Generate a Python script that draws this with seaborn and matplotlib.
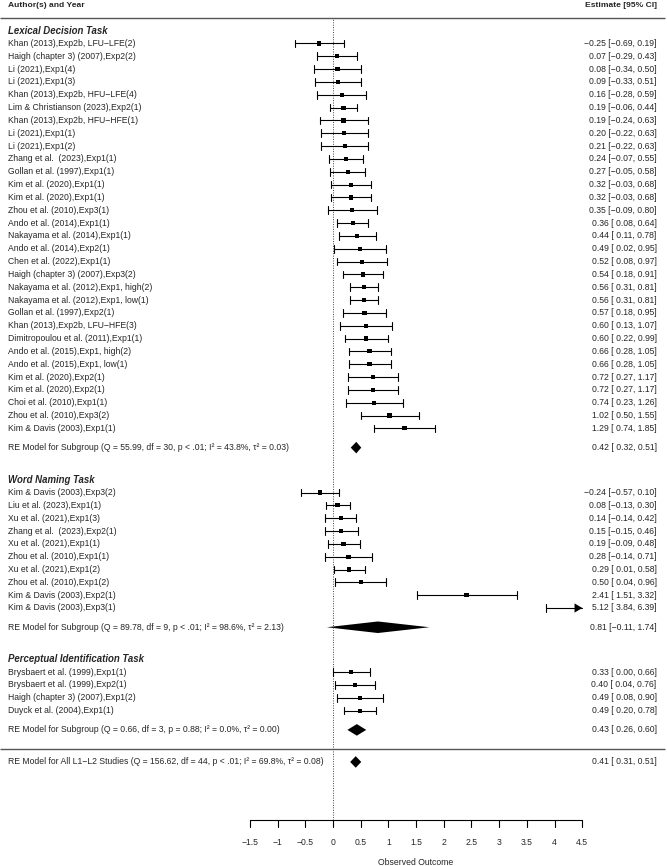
import matplotlib
matplotlib.use("Agg")
import matplotlib.pyplot as plt
import seaborn as sns
import pandas as pd
import numpy as np

sns.set_theme(style="white")
plt.rcParams['font.family'] = ['Liberation Sans', 'DejaVu Sans']

# ---------------- data ----------------
lex_labels = [
    "Khan (2013),Exp2b, LFU\u2212LFE(2)", "Haigh (chapter 3) (2007),Exp2(2)", "Li (2021),Exp1(4)",
    "Li (2021),Exp1(3)", "Khan (2013),Exp2b, HFU\u2212LFE(4)", "Lim & Christianson (2023),Exp2(1)",
    "Khan (2013),Exp2b, HFU\u2212HFE(1)", "Li (2021),Exp1(1)", "Li (2021),Exp1(2)",
    "Zhang et al.  (2023),Exp1(1)", "Gollan et al. (1997),Exp1(1)", "Kim et al. (2020),Exp1(1)",
    "Kim et al. (2020),Exp1(1)", "Zhou et al. (2010),Exp3(1)", "Ando et al. (2014),Exp1(1)",
    "Nakayama et al. (2014),Exp1(1)", "Ando et al. (2014),Exp2(1)", "Chen et al. (2022),Exp1(1)",
    "Haigh (chapter 3) (2007),Exp3(2)", "Nakayama et al. (2012),Exp1, high(2)",
    "Nakayama et al. (2012),Exp1, low(1)", "Gollan et al. (1997),Exp2(1)",
    "Khan (2013),Exp2b, LFU\u2212HFE(3)", "Dimitropoulou et al. (2011),Exp1(1)",
    "Ando et al. (2015),Exp1, high(2)", "Ando et al. (2015),Exp1, low(1)", "Kim et al. (2020),Exp2(1)",
    "Kim et al. (2020),Exp2(1)", "Choi et al. (2010),Exp1(1)", "Zhou et al. (2010),Exp3(2)",
    "Kim & Davis (2003),Exp1(1)",
]
lex_est = [-0.25, 0.07, 0.08, 0.09, 0.16, 0.19, 0.19, 0.20, 0.21, 0.24, 0.27, 0.32, 0.32, 0.35, 0.36,
           0.44, 0.49, 0.52, 0.54, 0.56, 0.56, 0.57, 0.60, 0.60, 0.66, 0.66, 0.72, 0.72, 0.74, 1.02, 1.29]
lex_lo = [-0.69, -0.29, -0.34, -0.33, -0.28, -0.06, -0.24, -0.22, -0.22, -0.07, -0.05, -0.03, -0.03, -0.09,
          0.08, 0.11, 0.02, 0.08, 0.18, 0.31, 0.31, 0.18, 0.13, 0.22, 0.28, 0.28, 0.27, 0.27, 0.23, 0.50, 0.74]
lex_hi = [0.19, 0.43, 0.50, 0.51, 0.59, 0.44, 0.63, 0.63, 0.63, 0.55, 0.58, 0.68, 0.68, 0.80, 0.64,
          0.78, 0.95, 0.97, 0.91, 0.81, 0.81, 0.95, 1.07, 0.99, 1.05, 1.05, 1.17, 1.17, 1.26, 1.55, 1.85]
lex_re = (0.42, 0.32, 0.51)
lex_re_label = "RE Model for Subgroup (Q = 55.99, df = 30, p < .01; I\u00b2 = 43.8%, \u03c4\u00b2 = 0.03)"

wn_labels = [
    "Kim & Davis (2003),Exp3(2)", "Liu et al. (2023),Exp1(1)", "Xu et al. (2021),Exp1(3)",
    "Zhang et al.  (2023),Exp2(1)", "Xu et al. (2021),Exp1(1)", "Zhou et al. (2010),Exp1(1)",
    "Xu et al. (2021),Exp1(2)", "Zhou et al. (2010),Exp1(2)", "Kim & Davis (2003),Exp2(1)",
    "Kim & Davis (2003),Exp3(1)",
]
wn_est = [-0.24, 0.08, 0.14, 0.15, 0.19, 0.28, 0.29, 0.50, 2.41, 5.12]
wn_lo = [-0.57, -0.13, -0.14, -0.15, -0.09, -0.14, 0.01, 0.04, 1.51, 3.84]
wn_hi = [0.10, 0.30, 0.42, 0.46, 0.48, 0.71, 0.58, 0.96, 3.32, 6.39]
wn_re = (0.81, -0.11, 1.74)
wn_re_label = "RE Model for Subgroup (Q = 89.78, df = 9, p < .01; I\u00b2 = 98.6%, \u03c4\u00b2 = 2.13)"

pi_labels = [
    "Brysbaert et al. (1999),Exp1(1)", "Brysbaert et al. (1999),Exp2(1)",
    "Haigh (chapter 3) (2007),Exp1(2)", "Duyck et al. (2004),Exp1(1)",
]
pi_est = [0.33, 0.40, 0.49, 0.49]
pi_lo = [0.00, 0.04, 0.08, 0.20]
pi_hi = [0.66, 0.76, 0.90, 0.78]
pi_re = (0.43, 0.26, 0.60)
pi_re_label = "RE Model for Subgroup (Q = 0.66, df = 3, p = 0.88; I\u00b2 = 0.0%, \u03c4\u00b2 = 0.00)"

all_re = (0.41, 0.31, 0.51)
all_re_label = "RE Model for All L1\u2212L2 Studies (Q = 156.62, df = 44, p < .01; I\u00b2 = 69.8%, \u03c4\u00b2 = 0.08)"

group_names = ["Lexical Decision Task", "Word Naming Task", "Perceptual Identification Task"]
x_ticks = [-1.5, -1, -0.5, 0, 0.5, 1, 1.5, 2, 2.5, 3, 3.5, 4, 4.5]
x_ticklabels = ["\u22121.5", "\u22121", "\u22120.5", "0", "0.5", "1", "1.5", "2", "2.5", "3", "3.5", "4", "4.5"]

# ---------------- layout ----------------
XMIN, XMAX = -6.011, 6.029
YMIN, YMAX = -8.11, 59.39
X_LEFT = -5.866
X_RIGHT = 5.84
AX_LO, AX_HI = -1.5, 4.5
FS = 6.25

groups = [
    dict(labels=lex_labels, est=lex_est, lo=lex_lo, hi=lex_hi, re=lex_re, re_label=lex_re_label,
         top=56, header=57, re_y=24.5),
    dict(labels=wn_labels, est=wn_est, lo=wn_lo, hi=wn_hi, re=wn_re, re_label=wn_re_label,
         top=21, header=22, re_y=10.5),
    dict(labels=pi_labels, est=pi_est, lo=pi_lo, hi=pi_hi, re=pi_re, re_label=pi_re_label,
         top=7, header=8, re_y=2.5),
]

rows = []
for g, name in zip(groups, group_names):
    for i, (lab, e, l, h) in enumerate(zip(g["labels"], g["est"], g["lo"], g["hi"])):
        rows.append(dict(group=name, label=lab, est=e, lo=l, hi=h, y=g["top"] - i))
df = pd.DataFrame(rows)

fig = plt.figure(figsize=(6.67, 8.66), dpi=100)
ax = fig.add_axes([0, 0, 1, 1])
ax.set_xlim(XMIN, XMAX)
ax.set_ylim(YMIN, YMAX)
ax.axis("off")


def fmt(e, l, h):
    s = f"{e:.2f} [{l:5.2f}, {h:.2f}]"
    return s.replace("-", "\u2212")


# header
ax.text(X_LEFT, 59, "Author(s) and Year", fontsize=6.1, fontweight="bold", ha="left", va="center")
ax.text(X_RIGHT, 59, "Estimate [95% CI]", fontsize=6.1, fontweight="bold", ha="right", va="center")
ax.plot([XMIN, 5.99], [58, 58], color="#555555", lw=1.0, solid_capstyle="butt")
ax.plot([XMIN, 5.99], [1.0, 1.0], color="#555555", lw=1.0, solid_capstyle="butt")

# reference line
ax.plot([0, 0], [-4.5, 57.9], color="#444444", lw=0.7, ls=(0, (1, 1.5)))

cap_h = 0.3
for _, r in df.iterrows():
    lo_c = max(r.lo, AX_LO)
    hi_c = min(r.hi, AX_HI)
    ax.plot([lo_c, hi_c], [r.y, r.y], color="black", lw=0.8)
    ax.plot([lo_c, lo_c], [r.y - cap_h, r.y + cap_h], color="black", lw=0.8)
    if r.hi > AX_HI:
        ax.fill([AX_HI - 0.14, AX_HI, AX_HI - 0.14], [r.y - 0.36, r.y, r.y + 0.36], color="black", lw=0)
    else:
        ax.plot([hi_c, hi_c], [r.y - cap_h, r.y + cap_h], color="black", lw=0.8)
    ax.text(X_LEFT, r.y, r.label, fontsize=FS, ha="left", va="center")
    ax.text(X_RIGHT, r.y, fmt(r.est, r.lo, r.hi), fontsize=FS, ha="right", va="center")

vis = df[(df.est >= AX_LO) & (df.est <= AX_HI)]
sns.scatterplot(data=vis, x="est", y="y", marker="s", s=9, color="black", edgecolor="none",
                ax=ax, legend=False, zorder=5)

DH = 0.45
for g, name in zip(groups, group_names):
    ax.text(X_LEFT, g["header"], name, fontsize=6.9, fontweight="bold", fontstyle="italic",
            ha="left", va="center")
    e, l, h = g["re"]
    y = g["re_y"]
    ax.fill([l, e, h, e], [y, y + DH, y, y - DH], color="black", lw=0)
    ax.text(X_LEFT, y, g["re_label"], fontsize=FS, ha="left", va="center")
    ax.text(X_RIGHT, y, fmt(e, l, h), fontsize=FS, ha="right", va="center")

e, l, h = all_re
ax.fill([l, e, h, e], [0, DH, 0, -DH], color="black", lw=0)
ax.text(X_LEFT, 0, all_re_label, fontsize=FS, ha="left", va="center")
ax.text(X_RIGHT, 0, fmt(e, l, h), fontsize=FS, ha="right", va="center")

# x axis
ax.plot([AX_LO, AX_HI], [-4.5, -4.5], color="black", lw=0.8)
for t, tl in zip(x_ticks, x_ticklabels):
    ax.plot([t, t], [-4.5, -5.05], color="black", lw=0.8)
    ax.text(t, -6.3, tl, fontsize=FS, ha="center", va="center")
ax.text((AX_LO + AX_HI) / 2, -7.85, "Observed Outcome", fontsize=FS, ha="center", va="center")

fig.savefig("out.png", dpi=100)
